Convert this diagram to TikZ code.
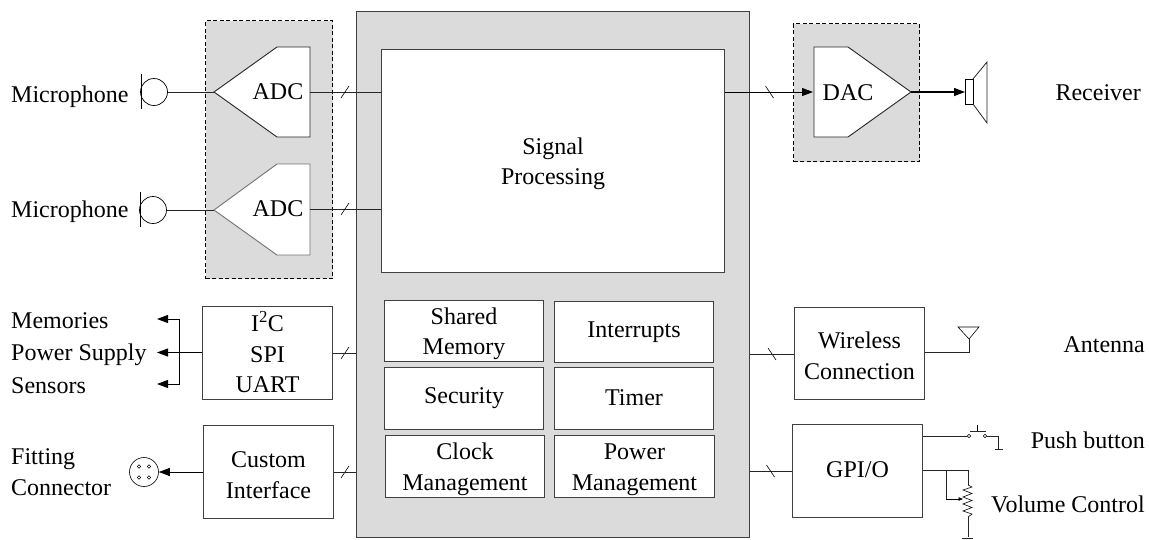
\documentclass[tikz,border=0pt]{standalone}
\usepackage{fontspec}
\setmainfont{Liberation Serif}
\usetikzlibrary{arrows.meta,shapes.geometric}
\tikzset{
  x=1pt,y=-1pt,
  ln/.style={draw=black!85,line width=0.9pt},
  wbox/.style={draw=black!75,fill=white,line width=1pt,inner sep=0pt},
  boxtxt/.style={align=center,font=\fontsize{24}{30.5}\selectfont,inner sep=0pt},
  lab/.style={font=\fontsize{24}{30.5}\selectfont,align=left,inner sep=0pt},
  conv/.style={draw=black!85,fill=white,line width=0.9pt},
  conlab/.style={font=\fontsize{24}{28}\selectfont,inner sep=0pt},
  grp/.style={draw=black,fill=black!14,dash pattern=on 4pt off 2.5pt,line width=1.3pt},
  arr/.style={-{Triangle[length=11pt,width=8pt]},black,line width=1pt},
  thin line/.style={draw=black,line width=0.6pt},
  pin/.style={draw=black,fill=white,line width=0.5pt,circle,inner sep=0pt,minimum size=3.5pt},
}
% name, x0, y0, x1, y1, text offset, text
\newcommand{\boxat}[7]{\node[wbox,minimum width=#4-#2,minimum height=#5-#3,anchor=north west,
  label={[boxtxt,yshift=-#6pt]center:{#7}}] (#1) at (#2,#3) {};}
\begin{document}
\begin{tikzpicture}
\useasboundingbox (0,0) rectangle (1149,539);
% main
\node[draw=black!75,fill=black!14,line width=1pt,minimum width=393,minimum height=526,anchor=north west,inner sep=0pt] (core) at (356,11) {};
\boxat{dsp}{381}{49}{724}{272}{3}{Signal\\Processing}
\boxat{shm}{384}{300}{543}{361}{3}{Shared\\Memory}
\boxat{intr}{554}{301}{713}{362}{0}{Interrupts}
\boxat{sec}{384}{367}{543}{429}{0}{Security}
\boxat{tim}{554}{367}{713}{429}{-1}{Timer}
\boxat{clk}{385}{435}{544}{497}{3}{Clock\\Management}
\boxat{pwr}{554}{435}{714}{497}{3}{Power\\Management}
% groups
\node[grp,minimum width=127,minimum height=258,anchor=north west,inner sep=0pt] (g1) at (205,20) {};
\node[grp,minimum width=126,minimum height=138,anchor=north west,inner sep=0pt] (g2) at (793,23) {};
% ADC/DAC
\coordinate (a1in) at (214,92);
\coordinate (a2in) at (214,210);
\coordinate (dacout) at (911,92);
\draw[conv] (a1in) -- (277,47) -- (310,47) -- (310,137) -- (277,137) -- cycle;
\node[conlab] (adc1) at (278,92) {ADC};
\draw[conv,draw=black!55] (a2in) -- (277,164) -- (310,164) -- (310,255) -- (277,255) -- cycle;
\node[conlab] (adc2) at (278,209) {ADC};
\draw[conv] (dacout) -- (848,47) -- (814,47) -- (814,137) -- (848,137) -- cycle;
\node[conlab] (dac) at (848,93) {DAC};
\coordinate (a1out) at (310,92);
\coordinate (a2out) at (310,209);
\coordinate (dacin) at (813,92);
% labels
\node[lab,anchor=west] (m1) at (11,97) {Microphone};
\node[lab,anchor=west] (m2) at (11,212) {Microphone};
\node[lab,anchor=west] (mem) at (11,321) {Memories};
\node[lab,anchor=west] (ps) at (11,355) {Power Supply};
\node[lab,anchor=west] (sen) at (11,386) {Sensors};
\node[lab,anchor=west] (fit) at (11,472) {Fitting\\Connector};
\node[lab,anchor=east] (rcv) at (1141,93) {Receiver};
\node[lab,anchor=east] (ant) at (1145,345) {Antenna};
\node[lab,anchor=east] (pb) at (1145,440) {Push button};
\node[lab,anchor=east] (vol) at (1145,504) {Volume Control};
% mics
\node[draw=black,fill=white,circle,line width=0.7pt,minimum size=27,inner sep=0pt] (c1) at (154,92) {};
\node[draw=black,fill=white,circle,line width=0.7pt,minimum size=27,inner sep=0pt] (c2) at (153,210) {};
\draw[thin line] (141,74) -- (141,109);
\draw[thin line] (140,192) -- (140,227);
\draw[ln] (c1) -- (a1in);
\draw[ln] (c2) -- (a2in);
% buses
\draw[ln] (a1out) -- (dsp.west |- a1out);
\draw[ln] (a2out) -- (dsp.west |- a2out);
\coordinate (dout) at (dsp.east |- dacin);
\draw[arr] (dout) -- (dacin);
\foreach \p/\q in {345/92,345/209,345/353,345/472}
  \draw[thin line] (\p-4,\q+6) -- (\p+4,\q-6);
\foreach \p/\q in {769.5/92,772/354,770.5/471}
  \draw[thin line] (\p-4,\q-6) -- (\p+4,\q+6);
% speaker
\coordinate (spk) at (965,92);
\draw[arr,line width=1.3pt] (dacout) -- (spk);
\node[draw=black,fill=white,line width=0.8pt,minimum width=8,minimum height=25,inner sep=0pt] (sp) at (969,92) {};
\draw[line width=0.8pt,black!85] (973,79) -- (987,62) -- (987,123) -- (973,104);
% boxes
\boxat{i2c}{202}{306}{332}{399}{-0.5}{I\textsuperscript{2}C\\SPI\\UART}
\boxat{cust}{203}{425}{333}{518}{3}{Custom\\Interface}
\boxat{wl}{794}{307}{924}{399}{2.5}{Wireless\\Connection}
\boxat{gpio}{792}{424}{922}{517}{-1}{GPI/O}
\draw[ln] (i2c.east |- 0,353) -- (core.west |- 0,353);
\draw[ln] (cust.east |- 0,472) -- (core.west |- 0,472);
\draw[ln] (core.east |- 0,354) -- (wl.west |- 0,354);
\draw[ln] (core.east |- 0,471) -- (gpio.west |- 0,471);
\coordinate (bj) at (179,352.5);
\coordinate (at1) at (157,319);
\coordinate (at2) at (157,352.5);
\coordinate (at3) at (157,384);
\draw[arr] (i2c.west |- bj) -- (at2);
\draw[arr] (bj) |- (at1);
\draw[arr] (bj) |- (at3);
% connector
\node[draw=black,fill=white,circle,line width=0.6pt,minimum size=29,inner sep=0pt] (fc) at (144,472) {};
\foreach \dx/\dy in {-5/-5.5,5/-5.5,-5/5.5,5/5.5}
  \node[pin] at (144+\dx,472+\dy) {};
\draw[arr] (cust.west |- fc) -- (fc.east);
% antenna
\coordinate (aj) at (969,352);
\draw[ln] (wl.east |- aj) -- (aj) -- (969,339);
\draw[thin line] (969,339) -- (958,327) -- (979,327) -- cycle;
% push button
\node[pin] (p1) at (969,436) {};
\node[pin] (p2) at (985,436) {};
\draw[ln] (gpio.east |- p1) -- (p1);
\draw[ln] (p2) -- (998,436) -- (998,449);
\draw[ln] (994.5,449) -- (1003,449);
\draw[ln] (970,431) -- (986,431);
\draw[thin line] (977,431) -- (977,425);
% volume
\coordinate (vj) at (946,470);
\draw[ln] (gpio.east |- vj) -- (968,470) -- (968,485);
\draw[thin line] (968,485) -- (972,487) -- (963,490) -- (972,493.5) -- (963,497) -- (972,500.5) -- (963,504) -- (972,507.5) -- (963,511) -- (972,514) -- (968,517);
\draw[ln] (968,517) -- (968,537);
\draw[ln] (962,538) -- (973,538);
\draw[ln] (vj) -- (946,499);
\draw[-{Triangle[length=4.5pt,width=3.5pt]},black,line width=0.7pt] (946,499) -- (963,499);
\end{tikzpicture}
\end{document}
